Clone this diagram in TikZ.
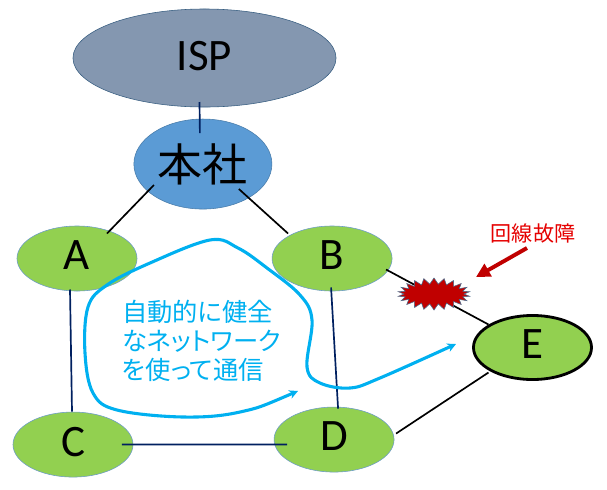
\documentclass[tikz,border=0pt]{standalone}
\usepackage{fontspec}
\setmainfont{Carlito}
\newfontfamily\jpfont{Noto Sans CJK JP}
\newfontfamily\jppropfont[RawFeature=+palt]{Noto Sans CJK JP}
\usetikzlibrary{arrows.meta,positioning,calc,shapes.geometric,shapes.symbols}
\definecolor{sitegreen}{HTML}{92D050}
\definecolor{sitefringe}{HTML}{6C9BC8}
\definecolor{hqblue}{HTML}{5B9BD5}
\definecolor{ispgray}{HTML}{8497B0}
\definecolor{linknavy}{HTML}{002060}
\definecolor{flowblue}{HTML}{00B0F0}
\definecolor{faultred}{HTML}{C00000}

\begin{document}
\begin{tikzpicture}[
  x=0.025cm, y=-0.025cm,
  font=\fontsize{32}{36}\selectfont,
  site/.style={draw=sitefringe, ellipse, fill=sitegreen, minimum width=3cm, minimum height=1.625cm, inner sep=0pt, outer sep=0pt, text depth=0.15cm},
  wire/.style={line width=1.2pt, black},
  navywire/.style={line width=1.2pt, linknavy},
  flow/.style={{Stealth[length=2.2mm,width=2.2mm]}-{Stealth[length=2.2mm,width=2.2mm]}, line width=2.2pt, flowblue},
  node distance=0.3cm
]
\useasboundingbox (0,0) rectangle (607,489);
\node[draw=hqblue!60!black, ellipse, fill=ispgray, minimum width=6.575cm, minimum height=2.45cm, inner sep=0pt, outer sep=0pt, text depth=0.1cm] (isp) at (204.5,58) {ISP};
\node[draw=hqblue!80!black, ellipse, fill=hqblue, minimum width=3.45cm, minimum height=2.25cm, inner sep=0pt, outer sep=0pt, below=of isp, xshift=-0.04cm] (hq) {\jpfont 本社};

\node[site] (a) at (77,258.5) {A};
\node[site, right=3.375cm of a] (b) {B};
\node[site, below=3.025cm of a, xshift=-0.1cm] (c) {C};
\node[site, right=3.525cm of c, yshift=0.125cm] (d) {D};
\node[site, draw=black, line width=2pt, minimum width=2.95cm, minimum height=1.6cm] (e) at (532.5,347.5) {E};

\draw[navywire] ($(isp)+(-5,44)$) -- ($(hq)+(-3,-31)$);
\draw[wire] ($(hq)+(-49,21)$) -- ($(a)+(30,-25)$);
\draw[wire] ($(hq)+(36,25)$) -- ($(b)+(-44,-25)$);
\draw[navywire] ($(a)+(-7,31)$) -- ($(c)+(-1,-33)$);
\draw[navywire] ($(c)+(49,0)$) -- ($(d)+(-47,5)$);
\draw[navywire] ($(b)+(-1,29)$) -- ($(d)+(4,-31)$);
\draw[wire] ($(b)+(54,11)$) -- ($(e)+(-44,-23)$);
\draw[wire] ($(d)+(62,-6)$) -- ($(e)+(-44,25)$);

\node[starburst, starburst points=22, starburst point height=0.15cm, random starburst=0, draw=sitefringe!70!black, fill=faultred, minimum width=1.8cm, minimum height=0.8cm, inner sep=0pt] (fault) at (434,294) {};

\node[font=\jpfont\fontsize{15}{18}\selectfont, text=red!90!black, inner sep=0pt] (faultlabel) at (533,233) {回線故障};
\coordinate (faultpoint) at (476,277);
\draw[-{Triangle[length=3.5mm,width=3.5mm]}, line width=2.8pt, faultred] ($(faultlabel.south)+(-6,5)$) -- (faultpoint);

\draw[flow] plot[smooth, tension=0.6] coordinates {(298,391) (240,412) (183,417) (117,410) (93,393) (85,353) (88,307) (107,285) (150,263) (210,240) (238,248) (267,268) (300,295) (312,320) (307,367) (320,383) (350,388) (380,378) (456,344)};
\node[font=\jppropfont\fontsize{18}{20.6}\selectfont, text=flowblue, align=left, inner sep=0pt, anchor=north west] (flowtext) at (122,300) {自動的に健全\\なネットワーク\\を使って通信};
\end{tikzpicture}
\end{document}
